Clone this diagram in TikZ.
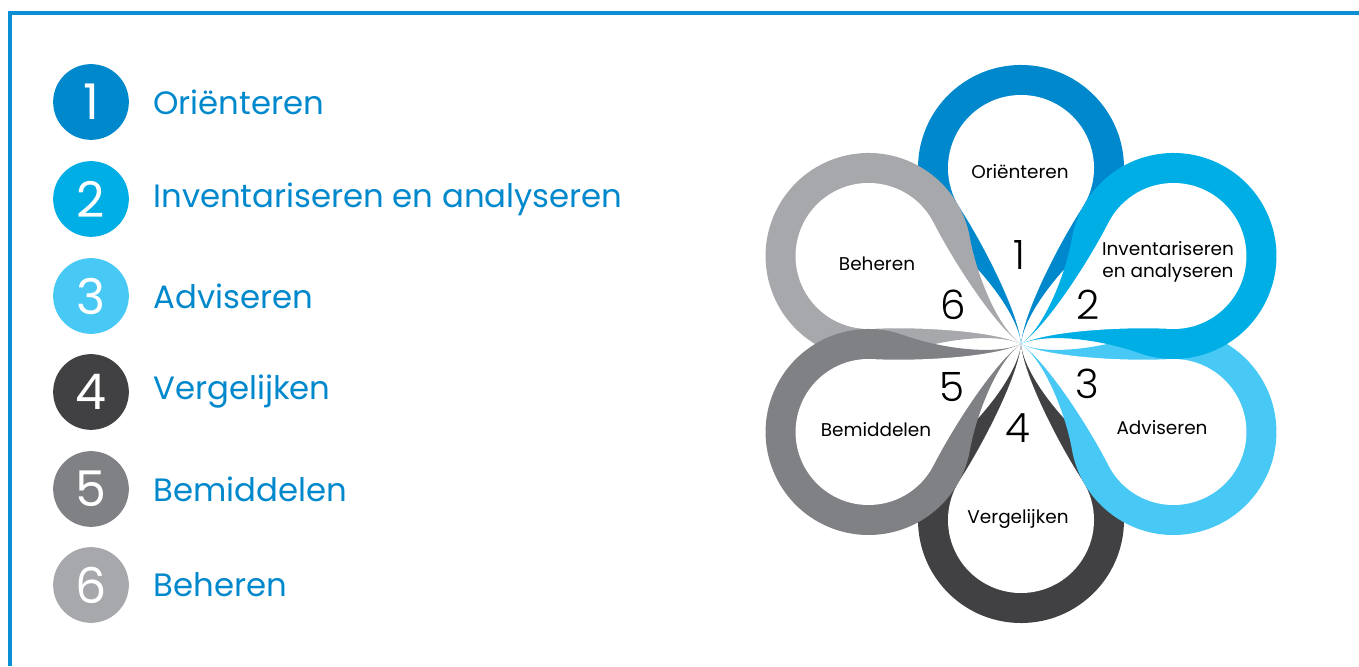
\documentclass[tikz,border=0pt]{standalone}
\usepackage{fontspec}
\setmainfont{Poppins}
\newfontfamily\lightfont{Poppins Light}
\usetikzlibrary{positioning}
\definecolor{bluea}{HTML}{0088CC}
\definecolor{blueb}{HTML}{00AEE6}
\definecolor{bluec}{HTML}{48C9F5}
\definecolor{greyd}{HTML}{414143}
\definecolor{greye}{HTML}{808184}
\definecolor{greyf}{HTML}{A7A8AB}
\definecolor{framec}{HTML}{0A8FD4}
\tikzset{
    numnode/.style = {circle, minimum size=43.1pt, inner sep=0pt, text=white, font=\fontsize{28}{28}\selectfont},
    listlabel/.style = {anchor=west, inner sep=0pt, text=bluea, font=\fontsize{18.4}{18.4}\selectfont},
    petallabel/.style = {align=center, inner sep=0pt, text=black, font=\fontsize{10.5}{12.5}\selectfont},
    petalnum/.style = {inner sep=0pt, text=black, font=\lightfont\fontsize{23}{23}\selectfont},
    frameline/.style = {draw=framec, line width=1.8pt}
}
% one petal: rotation, colour
\newcommand{\petal}[2]{
  \begin{scope}[shift={(fc)}, rotate=#1]
    \fill[#2] (0,0) .. controls (3,30) and (39.4,74.6) .. (66.21,97.12)
      arc[start angle=-50, end angle=230, radius=103]
      .. controls (-39.4,74.6) and (-3,30) .. (0,0) -- cycle;
    \fill[white] (0,0) .. controls (2,30) and (36.7,98.4) .. (61.22,136.24)
      arc[start angle=-33, end angle=213, radius=73]
      .. controls (-36.7,98.4) and (-2,30) .. (0,0) -- cycle;
  \end{scope}
}

\begin{document}
\begin{tikzpicture}[x=0.02cm, y=0.02cm]
  \useasboundingbox (0,0) rectangle (1359,666);
  \coordinate (fl) at (10,0);
  \coordinate (ftl) at (10,653);
  \coordinate (ftr) at (1359,653);
  \draw[frameline] (fl) -- (ftl) -- (ftr);

  % list
  \node[numnode, fill=bluea] (n1) at (91,564) {1};
  \node[listlabel, right=13.6pt of n1] (l1) {Oriënteren};
  \node[numnode, fill=blueb] (n2) at (91,467) {2};
  \node[listlabel, right=13.6pt of n2] (l2) {Inventariseren en analyseren};
  \node[numnode, fill=bluec] (n3) at (91,370) {3};
  \node[listlabel, right=13.6pt of n3] (l3) {Adviseren};
  \node[numnode, fill=greyd] (n4) at (91,274) {4};
  \node[listlabel, right=13.6pt of n4] (l4) {Vergelijken};
  \node[numnode, fill=greye] (n5) at (91,177) {5};
  \node[listlabel, right=13.6pt of n5] (l5) {Bemiddelen};
  \node[numnode, fill=greyf] (n6) at (91,81) {6};
  \node[listlabel, right=13.6pt of n6] (l6) {Beheren};

  % flower
  \coordinate (fc) at (1021,322);
  \petal{0}{bluea}
  \petal{180}{greyd}
  \petal{60}{greyf}
  \petal{-120}{bluec}
  \petal{-60}{blueb}
  \petal{120}{greye}

  \node[petallabel] (p1) at (1020,494) {Oriënteren};
  \node[petallabel] (p2) at (1168,404) {Inventariseren\\en analyseren};
  \node[petallabel] (p3) at (1162,238) {Adviseren};
  \node[petallabel] (p4) at (1018,147) {Vergelijken};
  \node[petallabel] (p5) at (876,236) {Bemiddelen};
  \node[petallabel] (p6) at (877,402) {Beheren};

  \node[petalnum] (k1) at (1019,411) {1};
  \node[petalnum] (k2) at (1088,361) {2};
  \node[petalnum] (k3) at (1087,282) {3};
  \node[petalnum] (k4) at (1018,238) {4};
  \node[petalnum] (k5) at (952,279) {5};
  \node[petalnum] (k6) at (953,361) {6};
\end{tikzpicture}
\end{document}
